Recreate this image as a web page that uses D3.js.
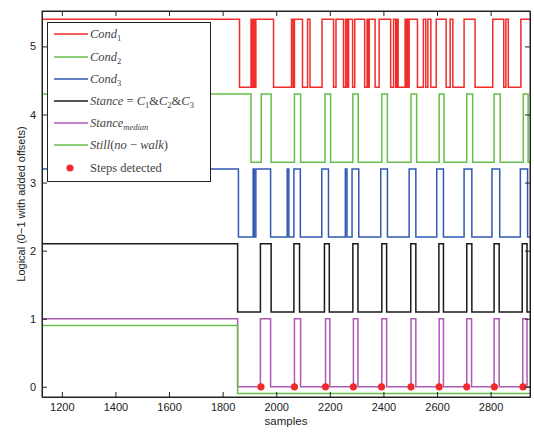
<!DOCTYPE html>
<html lang="en">
<head>
  <meta charset="UTF-8">
  <style>
    body { margin: 0; background: #fff; }
    svg { display: block; font-family: "Liberation Sans", Arial, sans-serif; }
    .axis text { font-size: 11px; fill: #222; }
    .axis path, .axis line { stroke: #222; }
    .sig { fill: none; stroke-width: 1.5; }
    .legend text { font-family: "Liberation Serif", "DejaVu Serif", serif; font-size: 12.5px; fill: #444; }
  </style>
</head>
<body>
  <svg id="chart" width="534" height="435"></svg>
  <script src="https://cdnjs.cloudflare.com/ajax/libs/d3/7.8.5/d3.min.js"></script>
  <script>
    // axis ranges and ticks
    const xDomain = [1126, 2947]
    const yDomain = [-0.15, 5.52]
    const xTicks = [1200, 1400, 1600, 1800, 2000, 2200, 2400, 2600, 2800]
    const yTicks = [0, 1, 2, 3, 4, 5]

    // samples where each logical signal flips (all start at 1)
    const cond1Edges = [1863, 1906, 1910, 1915, 1919, 1924, 1990, 2057, 2063, 2068, 2098, 2117, 2126,
      2171, 2214, 2223, 2251, 2259, 2265, 2270, 2285, 2293, 2330, 2339, 2343, 2347, 2369, 2384, 2427,
      2438, 2446, 2451, 2455, 2481, 2485, 2489, 2493, 2496, 2527, 2549, 2558, 2566, 2577, 2597, 2634,
      2649, 2659, 2701, 2742, 2808, 2849, 2857, 2866, 2913]
    const cond2Edges = [1906, 1944, 1981, 2068, 2091, 2182, 2203, 2286, 2306, 2394, 2415, 2503, 2524,
      2608, 2626, 2711, 2733, 2813, 2836, 2922, 2940]
    const cond3Edges = [1859, 1914, 1918, 1924, 1979, 2041, 2047, 2066, 2090, 2170, 2195, 2258, 2264,
      2283, 2308, 2390, 2415, 2496, 2521, 2599, 2624, 2701, 2730, 2805, 2834, 2911, 2938]
    const stanceEdges = [1856, 1941, 1981, 2066, 2087, 2180, 2198, 2286, 2305, 2394, 2412, 2502, 2521,
      2607, 2624, 2711, 2730, 2813, 2832, 2918, 2936]
    const medianEdges = [1856, 1941, 1979, 2068, 2091, 2184, 2200, 2288, 2305, 2394, 2412, 2503, 2521,
      2608, 2624, 2711, 2729, 2813, 2832, 2920, 2936]
    const stillEdges = [1856]
    const stepsDetected = [1943, 2068, 2184, 2288, 2393, 2503, 2608, 2711, 2814, 2921]

    // added offsets per signal
    const offsets = [4.4, 3.3, 2.2, 1.1, 0, -0.1]

    const series = [
      { edges: cond1Edges, offset: offsets[0], color: '#f22b2b' },
      { edges: cond2Edges, offset: offsets[1], color: '#66bf48' },
      { edges: cond3Edges, offset: offsets[2], color: '#3158b2' },
      { edges: stanceEdges, offset: offsets[3], color: '#1a1a1a' },
      { edges: medianEdges, offset: offsets[4], color: '#ad5ab5' },
      { edges: stillEdges, offset: offsets[5], color: '#66bf48' },
    ]

    const plot = { left: 42, top: 11, right: 530, bottom: 397 }

    const x = d3.scaleLinear().domain(xDomain).range([plot.left, plot.right])
    const y = d3.scaleLinear().domain(yDomain).range([plot.bottom, plot.top])

    const svg = d3.select('#chart')

    svg.append('clipPath').attr('id', 'clip')
      .append('rect')
        .attr('x', plot.left).attr('y', plot.top)
        .attr('width', plot.right - plot.left).attr('height', plot.bottom - plot.top)

    // step signals
    function toPoints(edges) {
      const pts = [{ s: xDomain[0], v: 1 }]
      let v = 1
      edges.forEach(e => { v = 1 - v; pts.push({ s: e, v: v }) })
      pts.push({ s: xDomain[1], v: v })
      return pts
    }

    const lines = svg.append('g').attr('clip-path', 'url(#clip)')
    series.forEach(d => {
      const line = d3.line()
        .x(p => x(p.s))
        .y(p => y(p.v + d.offset))
        .curve(d3.curveStepAfter)
      lines.append('path')
        .attr('class', 'sig')
        .attr('stroke', d.color)
        .attr('d', line(toPoints(d.edges)))
    })

    lines.selectAll('circle')
      .data(stepsDetected)
      .enter().append('circle')
        .attr('cx', d => x(d))
        .attr('cy', y(0))
        .attr('r', 3.6)
        .attr('fill', '#f02a2a')

    // axes, MATLAB style ticks pointing inward
    const fmt = d3.format('d')
    svg.append('g').attr('class', 'axis')
      .attr('transform', `translate(0, ${plot.bottom})`)
      .call(d3.axisBottom(x).tickValues(xTicks).tickFormat(fmt).tickSizeInner(-5).tickSizeOuter(0).tickPadding(6))
    svg.append('g').attr('class', 'axis')
      .attr('transform', `translate(0, ${plot.top})`)
      .call(d3.axisTop(x).tickValues(xTicks).tickSizeInner(-5).tickSizeOuter(0).tickFormat(''))
    svg.append('g').attr('class', 'axis')
      .attr('transform', `translate(${plot.left}, 0)`)
      .call(d3.axisLeft(y).tickValues(yTicks).tickFormat(fmt).tickSizeInner(-5).tickSizeOuter(0).tickPadding(6))
    svg.append('g').attr('class', 'axis')
      .attr('transform', `translate(${plot.right}, 0)`)
      .call(d3.axisRight(y).tickValues(yTicks).tickSizeInner(-5).tickSizeOuter(0).tickFormat(''))

    svg.append('rect')
      .attr('x', plot.left).attr('y', plot.top)
      .attr('width', plot.right - plot.left).attr('height', plot.bottom - plot.top)
      .attr('fill', 'none').attr('stroke', '#222')

    svg.append('text')
      .attr('x', (plot.left + plot.right) / 2).attr('y', 425)
      .attr('text-anchor', 'middle').attr('font-size', 11.5).attr('fill', '#222')
      .text('samples')
    svg.append('text')
      .attr('transform', `translate(21, ${(plot.top + plot.bottom) / 2}) rotate(-90)`)
      .attr('text-anchor', 'middle').attr('dy', '0.35em').attr('font-size', 11).attr('fill', '#222')
      .text('Logical (0\u22121 with added offsets)')

    // legend
    const legendItems = [
      { color: series[0].color, parts: [['Cond', 'i'], ['1', 'sub']] },
      { color: series[1].color, parts: [['Cond', 'i'], ['2', 'sub']] },
      { color: series[2].color, parts: [['Cond', 'i'], ['3', 'sub']] },
      { color: series[3].color, parts: [['Stance', 'i'], [' = ', 'n'], ['C', 'i'], ['1', 'sub'], ['&', 'n'], ['C', 'i'], ['2', 'sub'], ['&', 'n'], ['C', 'i'], ['3', 'sub']] },
      { color: series[4].color, parts: [['Stance', 'i'], ['median', 'subi']] },
      { color: series[5].color, parts: [['Still', 'i'], ['(', 'n'], ['no', 'i'], [' \u2212 ', 'n'], ['walk', 'i'], [')', 'n']] },
      { dot: true, parts: [['Steps detected', 'n']] },
    ]

    const legend = svg.append('g').attr('class', 'legend')
    legend.append('rect')
      .attr('x', 47.5).attr('y', 22.5).attr('width', 163).attr('height', 159)
      .attr('fill', '#fff').attr('stroke', '#222')

    const rowY = [34, 57, 79, 101, 123, 145, 168]
    legendItems.forEach((item, i) => {
      const g = legend.append('g').attr('transform', `translate(0, ${rowY[i]})`)
      if (item.dot) {
        g.append('circle').attr('cx', 70).attr('cy', 0).attr('r', 3.6).attr('fill', '#f02a2a')
      } else {
        g.append('line').attr('x1', 54).attr('x2', 88).attr('stroke', item.color).attr('stroke-width', 1.5)
      }
      const t = g.append('text').attr('x', 90).attr('dy', '0.33em')
      item.parts.forEach(([s, k]) => {
        const ts = t.append('tspan').text(s)
        if (k === 'i' || k === 'subi') ts.attr('font-style', 'italic')
        if (k === 'sub' || k === 'subi') {
          ts.attr('font-size', '8.5px').attr('dy', '3')
          ts.attr('class', 'sub')
        }
      })
      // reset baseline after subscripts
      t.selectAll('tspan').each(function (d, j, nodes) {
        const prev = j > 0 ? nodes[j - 1] : null
        if (prev && prev.getAttribute('class') === 'sub' && this.getAttribute('class') !== 'sub') {
          d3.select(this).attr('dy', '-3')
        }
      })
    })
  </script>
</body>
</html>
